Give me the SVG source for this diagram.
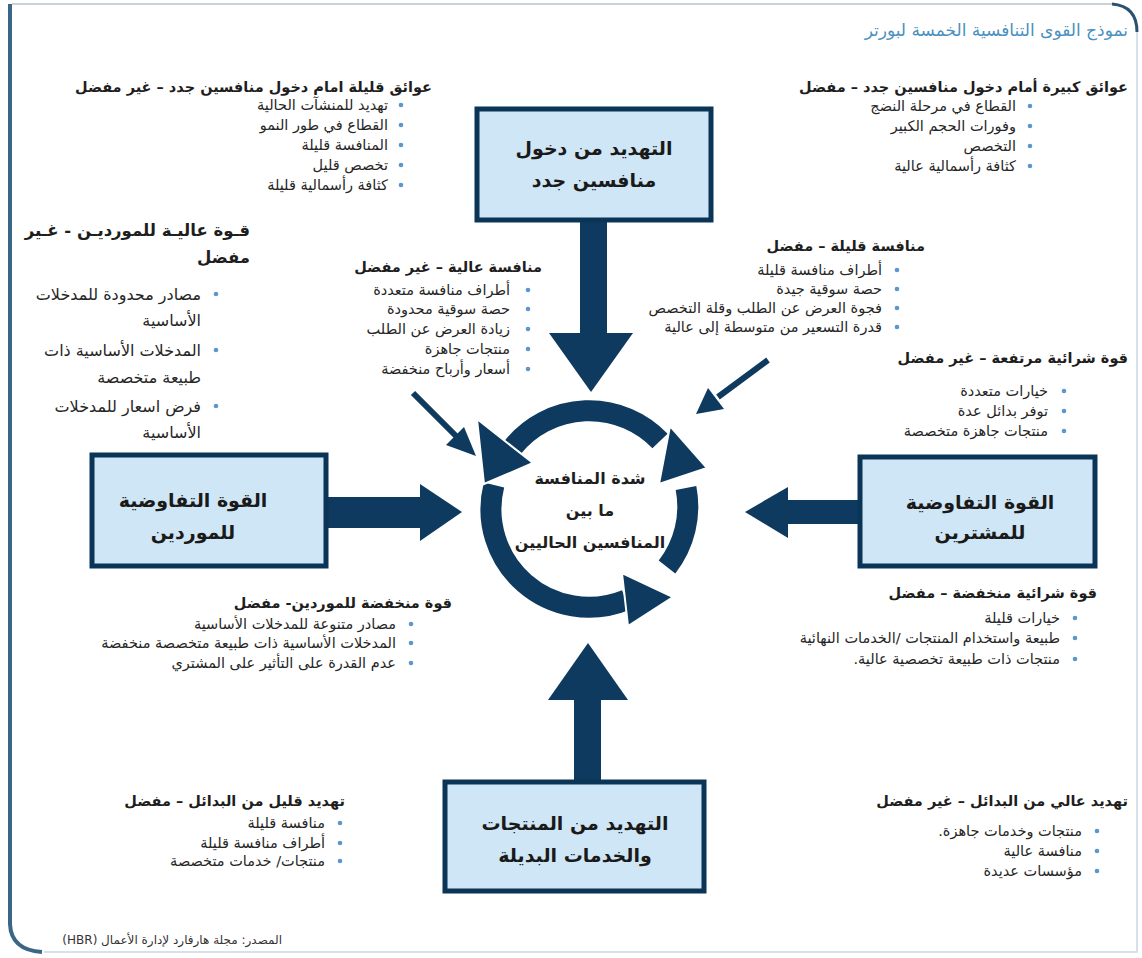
<svg xmlns="http://www.w3.org/2000/svg" width="1142" height="958" viewBox="0 0 1142 958">
<style>
text{font-family:"DejaVu Sans",sans-serif;direction:rtl;fill:#1e1e1e}
.t{font-size:17px;fill:#4a90c0;text-anchor:start}
.h{font-size:14.5px;font-weight:bold;text-anchor:start}
.i{font-size:14.5px;text-anchor:start;fill:#262626}
.h2{font-size:16.5px;font-weight:bold;text-anchor:start}
.i2{font-size:16px;text-anchor:start;fill:#262626}
.bx{font-size:19px;font-weight:bold;text-anchor:middle;fill:#1a1a1a}
.c{font-size:16px;font-weight:bold;text-anchor:middle}
.f{font-size:12px;text-anchor:start;fill:#333}
.box{fill:#cfe6f6;stroke:#0b3556;stroke-width:5}
.ar{fill:#0d3a5e}
.ring{fill:none;stroke:#0d3a5e;stroke-width:21}
.head{fill:#0d3a5e;stroke:#fff;stroke-width:2}
.bul{fill:#5b97cc}
</style>
<rect width="1142" height="958" fill="#fff"/>
<g id="frame" fill="none">
<path d="M12 4 L1112 4" stroke="#b9c3cc" stroke-width="1.5"/>
<path d="M1112 4 Q1137 6 1137 32" stroke="#2c5170" stroke-width="3"/>
<path d="M1137 32 L1137 952 L44 952" stroke="#c9d8e4" stroke-width="1.5"/>
<path d="M10 4 L10 924 Q11 950 42 952" stroke="#3a6688" stroke-width="4"/>
</g>
<text class="t" x="1128" y="36">نموذج القوى التنافسية الخمسة لبورتر</text>

<g id="connectors">
<rect class="ar" x="580" y="222" width="27" height="113"/>
<polygon class="ar" points="549,333 633,333 591,392"/>
<rect class="ar" x="326" y="497" width="96" height="31"/>
<polygon class="ar" points="420,484 420,541 462,512"/>
<rect class="ar" x="786" y="500" width="74" height="24"/>
<polygon class="ar" points="788,487 788,538 745,512"/>
<rect class="ar" x="574" y="698" width="27" height="84"/>
<polygon class="ar" points="548,700 628,700 588,643"/>
<line x1="413" y1="393" x2="458" y2="438" stroke="#0d3a5e" stroke-width="6"/>
<polygon class="ar" points="446,445 464,427 476,456"/>
<line x1="768" y1="360" x2="718" y2="397" stroke="#0d3a5e" stroke-width="6"/>
<polygon class="ar" points="724,409 708,388 696,414"/>
</g>

<g id="cycle">
<path class="ring" d="M660 441 A98 98 0 0 0 513 447"/>
<path class="ring" d="M494 485 A98 98 0 0 0 626 600"/>
<path class="ring" d="M667 567 A98 98 0 0 0 686 488"/>
<polygon class="head" points="477,419 533,463 484,484"/>
<polygon class="head" points="622,573 628,626 673,597"/>
<polygon class="head" points="659,484 707,468 670,426"/>
<text class="c" x="590" y="484">شدة المنافسة</text>
<text class="c" x="590" y="516">ما بين</text>
<text class="c" x="590" y="548">المنافسين الحاليين</text>
</g>

<g id="new-entrants">
<rect class="box" x="477" y="109" width="234" height="111"/>
<text class="bx" x="594" y="155">التهديد من دخول</text>
<text class="bx" x="594" y="187">منافسين جدد</text>
</g>
<g id="suppliers">
<rect class="box" x="92" y="455" width="234" height="111"/>
<text class="bx" x="193" y="507">القوة التفاوضية</text>
<text class="bx" x="193" y="539">للموردين</text>
</g>
<g id="buyers">
<rect class="box" x="860" y="457" width="235" height="109"/>
<text class="bx" x="980" y="509">القوة التفاوضية</text>
<text class="bx" x="980" y="539">للمشترين</text>
</g>
<g id="substitutes">
<rect class="box" x="445" y="782" width="259" height="109"/>
<text class="bx" x="575" y="830">التهديد من المنتجات</text>
<text class="bx" x="575" y="862">والخدمات البديلة</text>
</g>

<g id="barriers-low">
<text class="h" x="432" y="92">عوائق قليلة امام دخول منافسين جدد – غير مفضل</text>
<circle class="bul" cx="401" cy="105" r="2.3"/><text class="i" x="388" y="110">تهديد للمنشآت الحالية</text>
<circle class="bul" cx="401" cy="125" r="2.3"/><text class="i" x="388" y="130">القطاع في طور النمو</text>
<circle class="bul" cx="401" cy="145" r="2.3"/><text class="i" x="388" y="150">المنافسة قليلة</text>
<circle class="bul" cx="401" cy="165" r="2.3"/><text class="i" x="388" y="170">تخصص قليل</text>
<circle class="bul" cx="401" cy="185" r="2.3"/><text class="i" x="388" y="190">كثافة رأسمالية قليلة</text>
</g>
<g id="barriers-high">
<text class="h" x="1128" y="92">عوائق كبيرة أمام دخول منافسين جدد – مفضل</text>
<circle class="bul" cx="1030" cy="106" r="2.3"/><text class="i" x="1016" y="111">القطاع في مرحلة النضج</text>
<circle class="bul" cx="1030" cy="126" r="2.3"/><text class="i" x="1016" y="131">وفورات الحجم الكبير</text>
<circle class="bul" cx="1030" cy="146" r="2.3"/><text class="i" x="1016" y="151">التخصص</text>
<circle class="bul" cx="1030" cy="166" r="2.3"/><text class="i" x="1016" y="171">كثافة رأسمالية عالية</text>
</g>
<g id="suppliers-high">
<text class="h2" x="250" y="236">قـوة عاليـة للمورديـن - غـير</text>
<text class="h2" x="250" y="263">مفضل</text>
<circle class="bul" cx="216" cy="294" r="2.3"/><text class="i2" x="201" y="300">مصادر محدودة للمدخلات</text>
<text class="i2" x="201" y="326">الأساسية</text>
<circle class="bul" cx="216" cy="350" r="2.3"/><text class="i2" x="201" y="356">المدخلات الأساسية ذات</text>
<text class="i2" x="201" y="383">طبيعة متخصصة</text>
<circle class="bul" cx="216" cy="406" r="2.3"/><text class="i2" x="201" y="412">فرض اسعار للمدخلات</text>
<text class="i2" x="201" y="438">الأساسية</text>
</g>
<g id="rivalry-high">
<text class="h" x="542" y="272">منافسة عالية – غير مفضل</text>
<circle class="bul" cx="528" cy="290" r="2.3"/><text class="i" x="510" y="295">أطراف منافسة متعددة</text>
<circle class="bul" cx="528" cy="309" r="2.3"/><text class="i" x="510" y="314">حصة سوقية محدودة</text>
<circle class="bul" cx="528" cy="329" r="2.3"/><text class="i" x="510" y="334">زيادة العرض عن الطلب</text>
<circle class="bul" cx="528" cy="349" r="2.3"/><text class="i" x="510" y="354">منتجات جاهزة</text>
<circle class="bul" cx="528" cy="369" r="2.3"/><text class="i" x="510" y="374">أسعار وأرباح منخفضة</text>
</g>
<g id="rivalry-low">
<text class="h" x="925" y="251">منافسة قليلة – مفضل</text>
<circle class="bul" cx="897" cy="270" r="2.3"/><text class="i" x="882" y="275">أطراف منافسة قليلة</text>
<circle class="bul" cx="897" cy="289" r="2.3"/><text class="i" x="882" y="294">حصة سوقية جيدة</text>
<circle class="bul" cx="897" cy="308" r="2.3"/><text class="i" x="882" y="313">فجوة العرض عن الطلب وقلة التخصص</text>
<circle class="bul" cx="897" cy="327" r="2.3"/><text class="i" x="882" y="332">قدرة التسعير من متوسطة إلى عالية</text>
</g>
<g id="buyers-high">
<text class="h" x="1128" y="363">قوة شرائية مرتفعة – غير مفضل</text>
<circle class="bul" cx="1064" cy="391" r="2.3"/><text class="i" x="1048" y="396">خيارات متعددة</text>
<circle class="bul" cx="1064" cy="411" r="2.3"/><text class="i" x="1048" y="416">توفر بدائل عدة</text>
<circle class="bul" cx="1064" cy="431" r="2.3"/><text class="i" x="1048" y="436">منتجات جاهزة متخصصة</text>
</g>
<g id="suppliers-low">
<text class="h" x="452" y="608">قوة منخفضة للموردين- مفضل</text>
<circle class="bul" cx="411" cy="624" r="2.3"/><text class="i" x="396" y="629">مصادر متنوعة للمدخلات الأساسية</text>
<circle class="bul" cx="411" cy="643" r="2.3"/><text class="i" x="396" y="648">المدخلات الأساسية ذات طبيعة متخصصة منخفضة</text>
<circle class="bul" cx="411" cy="663" r="2.3"/><text class="i" x="396" y="668">عدم القدرة على التأثير على المشتري</text>
</g>
<g id="buyers-low">
<text class="h" x="1097" y="598">قوة شرائية منخفضة – مفضل</text>
<circle class="bul" cx="1075" cy="618" r="2.3"/><text class="i" x="1060" y="623">خيارات قليلة</text>
<circle class="bul" cx="1075" cy="638" r="2.3"/><text class="i" x="1060" y="643">طبيعة واستخدام المنتجات /الخدمات النهائية</text>
<circle class="bul" cx="1075" cy="659" r="2.3"/><text class="i" x="1060" y="664">منتجات ذات طبيعة تخصصية عالية.</text>
</g>
<g id="substitutes-low">
<text class="h" x="345" y="806">تهديد قليل من البدائل – مفضل</text>
<circle class="bul" cx="340" cy="823" r="2.3"/><text class="i" x="325" y="828">منافسة قليلة</text>
<circle class="bul" cx="340" cy="843" r="2.3"/><text class="i" x="325" y="848">أطراف منافسة قليلة</text>
<circle class="bul" cx="340" cy="861" r="2.3"/><text class="i" x="325" y="866">منتجات/ خدمات متخصصة</text>
</g>
<g id="substitutes-high">
<text class="h" x="1128" y="806">تهديد عالي من البدائل – غير مفضل</text>
<circle class="bul" cx="1097" cy="831" r="2.3"/><text class="i" x="1082" y="836">منتجات وخدمات جاهزة.</text>
<circle class="bul" cx="1097" cy="851" r="2.3"/><text class="i" x="1082" y="856">منافسة عالية</text>
<circle class="bul" cx="1097" cy="871" r="2.3"/><text class="i" x="1082" y="876">مؤسسات عديدة</text>
</g>
<text class="f" x="282" y="944">المصدر: مجلة هارفارد لإدارة الأعمال (HBR)</text>
</svg>
